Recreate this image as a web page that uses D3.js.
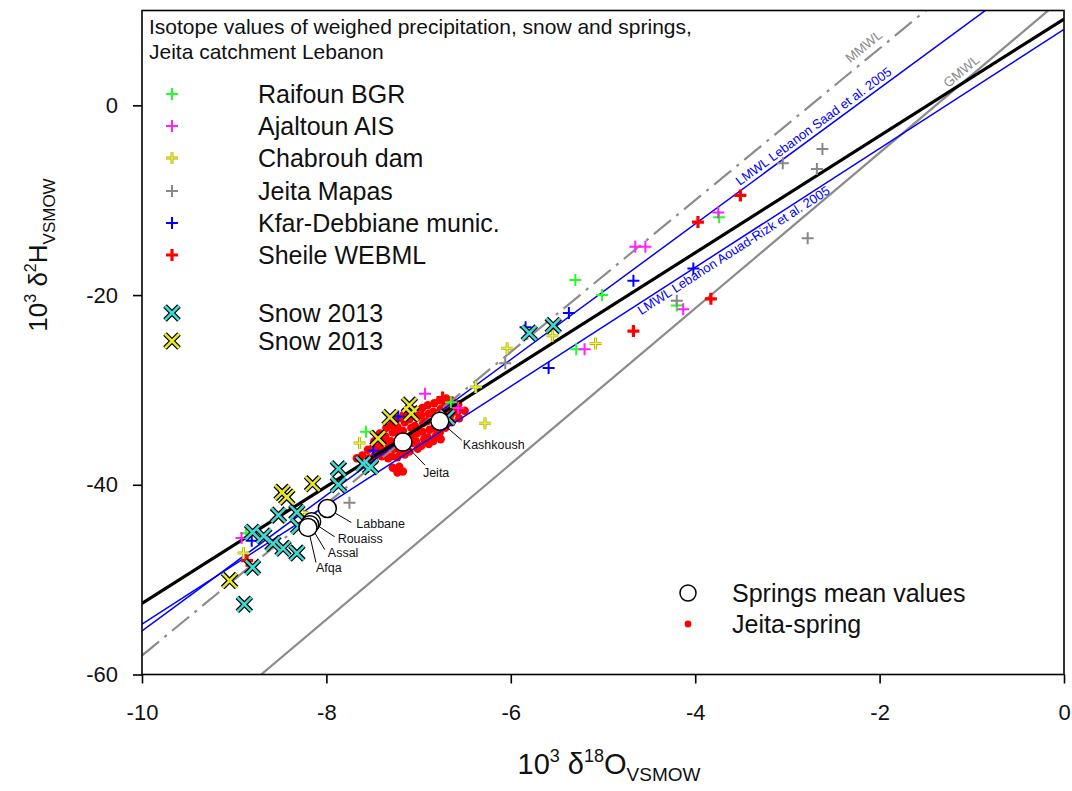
<!DOCTYPE html>
<html><head><meta charset="utf-8">
<script src="https://cdn.jsdelivr.net/npm/d3@7/dist/d3.min.js"></script>
<style>body{margin:0;background:#fff;} svg{display:block;font-family:Arial,"Liberation Sans",sans-serif;}</style>
</head><body><svg id="c" width="1072" height="791"></svg>
<script>
// ---------------- data ----------------
const xTicks = [-10, -8, -6, -4, -2, 0];
const yTicks = [0, -20, -40, -60];
const titleLines = ["Isotope values of weighed precipitation, snow and springs,", "Jeita catchment Lebanon"];
const seriesNames = ["Raifoun BGR", "Ajaltoun AIS", "Chabrouh dam", "Jeita Mapas", "Kfar-Debbiane munic.", "Sheile WEBML", "Snow 2013", "Snow 2013"];

const raifoun = [[-5.30,-18.4],[-5.01,-20.0],[-3.74,-11.8],[-4.20,-21.1],[-5.29,-25.7],[-7.57,-34.4],[-6.65,-31.3],[-8.87,-45.1]];
const ajaltoun = [[-4.65,-14.9],[-4.54,-14.9],[-3.75,-11.3],[-4.13,-21.5],[-5.20,-25.7],[-6.93,-30.4],[-6.57,-31.9],[-8.92,-45.6]];
const chabrouh = [[-5.08,-25.1],[-5.55,-24.3],[-6.04,-25.6],[-6.38,-29.7],[-6.28,-33.5],[-7.64,-35.6],[-8.90,-47.2],[-8.26,-42.9]];
const jeitaMapas = [[-2.62,-4.6],[-3.05,-6.1],[-2.68,-6.7],[-2.78,-14.0],[-4.20,-20.6],[-6.06,-27.2],[-7.75,-41.9]];
const kfarDebbiane = [[-4.67,-18.5],[-4.02,-17.2],[-5.37,-21.9],[-5.59,-27.7],[-5.84,-23.4],[-7.22,-32.8],[-7.49,-36.4],[-8.81,-45.9]];
const sheile = [[-3.51,-9.5],[-3.97,-12.3],[-3.83,-20.4],[-4.67,-23.8],[-6.74,-30.8],[-8.86,-48.0]];
const snowCyan = [[-8.89,-52.6],[-8.80,-48.7],[-8.32,-47.2],[-8.47,-46.7],[-8.58,-46.2],[-8.68,-45.4],[-8.80,-45.0],[-8.52,-43.2],[-8.32,-42.9],[-8.30,-44.4],[-7.87,-40.0],[-7.87,-38.3],[-7.60,-37.8],[-7.52,-38.1],[-6.69,-32.9],[-5.80,-24.0],[-5.54,-23.2]];
const snowYellow = [[-9.05,-50.1],[-8.48,-40.8],[-8.43,-41.3],[-8.15,-39.9],[-7.44,-35.1],[-7.31,-32.9],[-7.10,-31.6],[-7.08,-32.5]];

const springNames = ["Kashkoush", "Jeita", "Labbane", "Rouaiss", "Assal", "Afqa"];
const springX = [-6.77, -7.17, -7.99, -8.16, -8.18, -8.20];
const springY = [-33.3, -35.5, -42.5, -43.9, -44.2, -44.5];

const jeitaSpring = [
 [-7.61,-36.9],[-7.60,-37.5],[-7.55,-36.3],[-7.54,-37.2],[-7.67,-37.2],
 [-7.48,-35.4],[-7.49,-36.0],[-7.47,-36.8],[-7.48,-37.5],
 [-7.42,-34.6],[-7.41,-35.3],[-7.43,-36.1],[-7.40,-37.0],
 [-7.35,-34.0],[-7.36,-34.9],[-7.34,-35.6],[-7.36,-36.4],[-7.33,-37.2],
 [-7.29,-33.7],[-7.28,-34.5],[-7.30,-35.4],[-7.27,-36.2],[-7.29,-37.0],
 [-7.22,-33.0],[-7.23,-33.9],[-7.21,-34.7],[-7.22,-35.6],[-7.20,-36.4],[-7.23,-37.1],
 [-7.16,-32.6],[-7.15,-33.4],[-7.17,-34.3],[-7.14,-35.1],[-7.16,-35.9],[-7.15,-36.8],
 [-7.09,-32.3],[-7.10,-33.1],[-7.08,-34.0],[-7.09,-34.9],[-7.07,-35.6],[-7.10,-36.5],
 [-7.03,-32.1],[-7.02,-32.9],[-7.04,-33.8],[-7.02,-34.6],[-7.03,-35.4],[-7.01,-36.2],
 [-6.96,-31.9],[-6.97,-32.7],[-6.95,-33.5],[-6.96,-34.4],[-6.94,-35.2],[-6.97,-35.9],
 [-6.90,-31.6],[-6.89,-32.5],[-6.91,-33.3],[-6.88,-34.2],[-6.90,-35.0],[-6.89,-35.7],
 [-6.83,-31.4],[-6.84,-32.3],[-6.82,-33.1],[-6.83,-34.0],[-6.81,-34.8],[-6.84,-35.4],
 [-6.77,-31.1],[-6.76,-32.0],[-6.78,-32.8],[-6.75,-33.6],[-6.77,-34.5],[-6.76,-35.2],
 [-6.70,-30.9],[-6.71,-31.6],[-6.69,-32.4],[-6.70,-33.2],[-6.71,-34.0],
 [-6.64,-31.1],[-6.63,-31.9],[-6.65,-32.6],[-6.64,-33.4],
 [-6.57,-31.5],[-6.58,-32.3],[-6.56,-33.0],[-6.50,-32.2],
 [-7.28,-38.2],[-7.21,-38.1],[-7.17,-38.6],[-7.23,-38.7]
];

const lineNames = ["MMWL", "GMWL", "LMWL Lebanon Saad et al. 2005", "LMWL Lebanon Aouad-Rizk et al. 2005", "Regression"];
const lineSlopes = [8.0, 8.2, 7.15, 6.27, 6.16];
const lineIntercepts = [22.0, 11.4, 16.1, 8.0, 9.1];

const springLegend = ["Springs mean values", "Jeita-spring"];

// ---------------- drawing ----------------
const FONT = "Arial, 'Liberation Sans', sans-serif";
const svg = d3.select("#c");
const L = 142, R = 1064, T = 10.5, B = 674.5;
const x = d3.scaleLinear().domain([-10, 0]).range([L, R]);
const y = d3.scaleLinear().domain([-60, 10]).range([B, T]);

svg.append("defs").append("clipPath").attr("id", "clip")
  .append("rect").attr("x", L).attr("y", T).attr("width", R - L).attr("height", B - T);

const plot = svg.append("g").attr("clip-path", "url(#clip)");

// title
svg.append("g").selectAll("text").data(titleLines).join("text")
  .attr("x", 149).attr("y", (d, i) => 34 + i * 25)
  .attr("font-size", 21).attr("fill", "#111").text(d => d);

// Jeita-spring dots
plot.append("g").selectAll("circle").data(jeitaSpring).join("circle")
  .attr("cx", d => x(d[0])).attr("cy", d => y(d[1])).attr("r", 4.2).attr("fill", "#ff0000");

// lines
const lineStyle = [
  {stroke: "#8c8c8c", w: 2.2, dash: "22,7,3,7"},
  {stroke: "#8c8c8c", w: 2.2, dash: null},
  {stroke: "#0000ff", w: 1.5, dash: null},
  {stroke: "#0000ff", w: 1.5, dash: null},
  {stroke: "#000000", w: 3.2, dash: null}
];
lineNames.forEach((n, i) => {
  const f = v => lineSlopes[i] * v + lineIntercepts[i];
  plot.append("line")
    .attr("x1", x(-10)).attr("y1", y(f(-10))).attr("x2", x(0)).attr("y2", y(f(0)))
    .attr("stroke", lineStyle[i].stroke).attr("stroke-width", lineStyle[i].w)
    .attr("stroke-dasharray", lineStyle[i].dash);
});

// line labels
const labelLayout = [
  {at: -2.27, dy: -7, color: "#8c8c8c", size: 13.5},
  {at: -1.22, dy: -5, color: "#8c8c8c", size: 13.5},
  {at: -3.49, dy: -4, color: "#0000ff", size: 13},
  {at: -4.65, dy: 11, color: "#0000ff", size: 13}
];
labelLayout.forEach((lay, i) => {
  const f = v => lineSlopes[i] * v + lineIntercepts[i];
  const px = x(lay.at), py = y(f(lay.at));
  const ang = Math.atan2(y(f(lay.at + 1)) - py, x(lay.at + 1) - px) * 180 / Math.PI;
  svg.append("text").attr("transform", `translate(${px},${py}) rotate(${ang})`)
    .attr("y", lay.dy).attr("font-size", lay.size).attr("fill", lay.color).text(lineNames[i]);
});

// markers
const plusPath = "M-6,0H6M0,-6V6";
const xPath = "M-7,-7L7,7M-7,7L7,-7";
function plusMarks(g, data, color, w) {
  g.append("g").selectAll("path").data(data).join("path")
    .attr("transform", d => `translate(${x(d[0])},${y(d[1])})`)
    .attr("d", plusPath).attr("stroke", color).attr("stroke-width", w).attr("fill", "none");
}
function yellowPlus(g, data) {
  plusMarks(g, data, "#b4b400", 3);
  plusMarks(g, data, "#f4f460", 1.2);
}
function xMarks(g, data, color) {
  const gg = g.append("g");
  gg.selectAll("path.o").data(data).join("path").attr("class", "o")
    .attr("transform", d => `translate(${x(d[0])},${y(d[1])})`)
    .attr("d", xPath).attr("stroke", "#000").attr("stroke-width", 5).attr("fill", "none");
  gg.selectAll("path.i").data(data).join("path").attr("class", "i")
    .attr("transform", d => `translate(${x(d[0])},${y(d[1])})`)
    .attr("d", xPath).attr("stroke", color).attr("stroke-width", 2.6).attr("fill", "none");
}
const seriesColors = ["#22ff22", "#ff22ff", null, "#888888", "#0000ff", "#ff0000"];
plusMarks(plot, raifoun, seriesColors[0], 2);
plusMarks(plot, ajaltoun, seriesColors[1], 2);
yellowPlus(plot, chabrouh);
plusMarks(plot, jeitaMapas, seriesColors[3], 2);
plusMarks(plot, kfarDebbiane, seriesColors[4], 2);
plusMarks(plot, sheile, seriesColors[5], 3.2);
xMarks(plot, snowCyan, "#40d8d0");
xMarks(plot, snowYellow, "#e6e628");

// spring mean circles with labels
const springLabel = [
  {ex: 22, ey: 19, tx: 23, ty: 28},
  {ex: 22, ey: 23, tx: 20, ty: 35},
  {ex: 24, ey: 14, tx: 29, ty: 19},
  {ex: 23, ey: 15, tx: 26, ty: 21},
  {ex: 15, ey: 25, tx: 18, ty: 32},
  {ex: 8, ey: 35, tx: 8, ty: 45}
];
const sp = springNames.map((n, i) => ({n, cx: x(springX[i]), cy: y(springY[i]), lay: springLabel[i]}));
svg.append("g").selectAll("line").data(sp).join("line")
  .attr("x1", d => d.cx).attr("y1", d => d.cy)
  .attr("x2", d => d.cx + d.lay.ex).attr("y2", d => d.cy + d.lay.ey)
  .attr("stroke", "#000").attr("stroke-width", 1);
svg.append("g").selectAll("circle").data(sp).join("circle")
  .attr("cx", d => d.cx).attr("cy", d => d.cy).attr("r", 9)
  .attr("fill", "#fff").attr("stroke", "#000").attr("stroke-width", 1.5);
svg.append("g").selectAll("text").data(sp).join("text")
  .attr("x", d => d.cx + d.lay.tx).attr("y", d => d.cy + d.lay.ty)
  .attr("font-size", 12.5).attr("fill", "#111").text(d => d.n);

// frame
svg.append("rect").attr("x", L).attr("y", T).attr("width", R - L).attr("height", B - T)
  .attr("fill", "none").attr("stroke", "#000").attr("stroke-width", 1.6);

// axes
const fmt = d => String(d);
const xa = svg.append("g").attr("transform", `translate(0,${B})`)
  .call(d3.axisBottom(x).tickValues(xTicks).tickSize(9).tickPadding(21).tickFormat(fmt));
const ya = svg.append("g").attr("transform", `translate(${L},0)`)
  .call(d3.axisLeft(y).tickValues(yTicks).tickSize(9).tickPadding(15).tickFormat(fmt));
[xa, ya].forEach(a => {
  a.select(".domain").remove();
  a.selectAll(".tick line").attr("stroke", "#000").attr("stroke-width", 1.6);
  a.selectAll(".tick text").attr("font-size", 22).attr("fill", "#111").attr("font-family", FONT);
});

// legend (top-left)
const legY = [94, 126, 158, 191, 223, 255, 313, 341];
const lg = svg.append("g");
const legendMarks = [
  g => plusMarks(g, [[0,0]], seriesColors[0], 2),
  g => plusMarks(g, [[0,0]], seriesColors[1], 2),
  g => yellowPlus(g, [[0,0]]),
  g => plusMarks(g, [[0,0]], seriesColors[3], 2),
  g => plusMarks(g, [[0,0]], seriesColors[4], 2),
  g => plusMarks(g, [[0,0]], seriesColors[5], 3.2),
  g => xMarks(g, [[0,0]], "#40d8d0"),
  g => xMarks(g, [[0,0]], "#e6e628")
];
seriesNames.forEach((n, i) => {
  const g = lg.append("g").attr("transform", `translate(${172 - x(0)},${legY[i] - y(0)})`);
  legendMarks[i](g);
  lg.append("text").attr("x", 258).attr("y", legY[i] + 9).attr("font-size", 25)
    .attr("fill", "#111").text(n);
});

// legend (bottom-right)
svg.append("circle").attr("cx", 688).attr("cy", 593).attr("r", 8)
  .attr("fill", "#fff").attr("stroke", "#000").attr("stroke-width", 1.5);
svg.append("circle").attr("cx", 688).attr("cy", 624).attr("r", 3.4).attr("fill", "#ff0000");
svg.append("g").selectAll("text").data(springLegend).join("text")
  .attr("x", 732).attr("y", (d, i) => 602 + i * 31).attr("font-size", 25).attr("fill", "#111").text(d => d);

// axis titles
const xt = svg.append("text").attr("x", 609).attr("y", 774).attr("text-anchor", "middle")
  .attr("font-size", 29).attr("fill", "#111");
xt.append("tspan").text("10");
xt.append("tspan").attr("dy", -12).attr("font-size", 18).text("3");
xt.append("tspan").attr("dy", 12).text(" \u03b4");
xt.append("tspan").attr("dy", -12).attr("font-size", 18).text("18");
xt.append("tspan").attr("dy", 12).text("O");
xt.append("tspan").attr("dy", 7).attr("font-size", 19).text("VSMOW");

const yt = svg.append("text").attr("transform", "translate(47,255) rotate(-90)")
  .attr("text-anchor", "middle").attr("font-size", 26).attr("fill", "#111");
yt.append("tspan").text("10");
yt.append("tspan").attr("dy", -11).attr("font-size", 16).text("3");
yt.append("tspan").attr("dy", 11).text(" \u03b4");
yt.append("tspan").attr("dy", -11).attr("font-size", 16).text("2");
yt.append("tspan").attr("dy", 11).text("H");
yt.append("tspan").attr("dy", 8).attr("font-size", 17).text("VSMOW");
</script>
</body></html>
